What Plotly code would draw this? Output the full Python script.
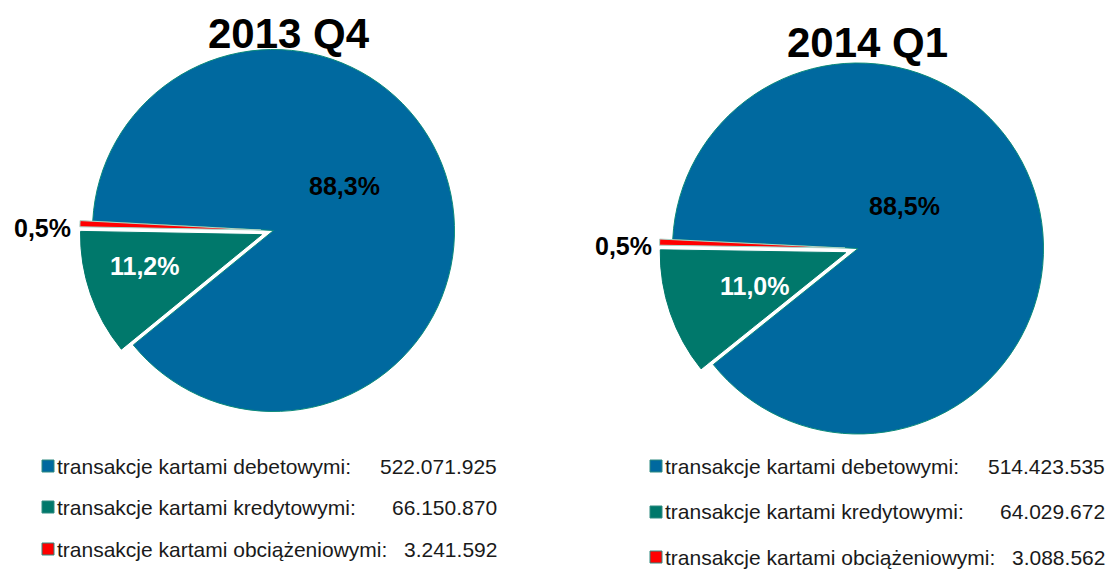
import plotly.graph_objects as go

W, H = 1110, 569

categories = ["transakcje kartami debetowymi:",
              "transakcje kartami kredytowymi:",
              "transakcje kartami obciążeniowymi:"]
titles = ["2013 Q4", "2014 Q1"]
values_2013q4 = [522071925, 66150870, 3241592]
values_2014q1 = [514423535, 64029672, 3088562]
colors = ["#00699F", "#00786B", "#FF0000"]
line_colors = ["#0A8A7A", "#00786B", "#A8D8CC"]
pulls = [0, 0.07, 0.07]


def px(x):
    return x / W


def py(y):
    return 1 - y / H


def fmt_val(v):
    return f"{v:,}".replace(",", ".")


def fmt_pct(v, total):
    return f"{v / total * 100:.1f}%".replace(".", ",")


fig = go.Figure()

# pie geometry (pixels): center x, center y, radius
pies = [
    dict(vals=values_2013q4, cx=273.5, cy=230.5, r=181, rot=-87.0,
         title_xy=(289, 33),
         pct_xy=[(344, 186), (145, 266), (42, 228)],
         leg_sq_x=42, leg_txt_x=55, leg_val_x=499, leg_y=[466, 507, 549]),
    dict(vals=values_2014q1, cx=858, cy=248.5, r=185.5, rot=-87.2,
         title_xy=(867, 42),
         pct_xy=[(904, 206), (755, 286), (623, 246)],
         leg_sq_x=650, leg_txt_x=663, leg_val_x=1107, leg_y=[466, 512, 557]),
]

FONT = "Liberation Sans, Arial"
annotations = []
shapes = []
for p, title in zip(pies, titles):
    half = p["r"] * (1 + max(pulls))
    fig.add_trace(go.Pie(
        labels=categories,
        values=p["vals"],
        sort=False,
        direction="clockwise",
        rotation=p["rot"],
        pull=pulls,
        textinfo="none",
        hoverinfo="label+value+percent",
        showlegend=False,
        marker=dict(colors=colors, line=dict(color=line_colors, width=1)),
        domain=dict(x=[px(p["cx"] - half), px(p["cx"] + half)],
                    y=[py(p["cy"] + half), py(p["cy"] - half)]),
    ))
    # title
    annotations.append(dict(
        text=title, x=px(p["title_xy"][0]), y=py(p["title_xy"][1]),
        xref="paper", yref="paper", xanchor="center", yanchor="middle",
        showarrow=False,
        font=dict(family=FONT, size=42, color="#000000", weight="bold"),
    ))
    total = sum(p["vals"])
    pct_colors = ["#000000", "#FFFFFF", "#000000"]
    for v, (x, y), c in zip(p["vals"], p["pct_xy"], pct_colors):
        annotations.append(dict(
            text=fmt_pct(v, total), x=px(x), y=py(y),
            xref="paper", yref="paper", xanchor="center", yanchor="middle",
            showarrow=False,
            font=dict(family=FONT, size=25, color=c, weight="bold"),
        ))
    # legend
    for cat, v, col, y in zip(categories, p["vals"], colors, p["leg_y"]):
        sq = 12
        shapes.append(dict(
            type="rect", xref="paper", yref="paper",
            x0=px(p["leg_sq_x"]), x1=px(p["leg_sq_x"] + sq),
            y0=py(y + sq / 2), y1=py(y - sq / 2),
            fillcolor=col, line=dict(color="#2E8B80", width=1),
        ))
        annotations.append(dict(
            text=cat, x=px(p["leg_txt_x"]), y=py(y),
            xref="paper", yref="paper", xanchor="left", yanchor="middle",
            showarrow=False,
            font=dict(family=FONT, size=21, color="#1A1A1A"),
        ))
        annotations.append(dict(
            text=fmt_val(v), x=px(p["leg_val_x"]), y=py(y),
            xref="paper", yref="paper", xanchor="right", yanchor="middle",
            showarrow=False,
            font=dict(family=FONT, size=21, color="#1A1A1A"),
        ))

fig.update_layout(
    width=W, height=H,
    margin=dict(l=0, r=0, t=0, b=0),
    paper_bgcolor="#FFFFFF",
    plot_bgcolor="#FFFFFF",
    annotations=annotations,
    shapes=shapes,
)

fig.write_html(
    "out.html",
    config={"displayModeBar": False},
    post_script="document.body.style.margin='0';document.body.style.overflow='hidden';",
)
